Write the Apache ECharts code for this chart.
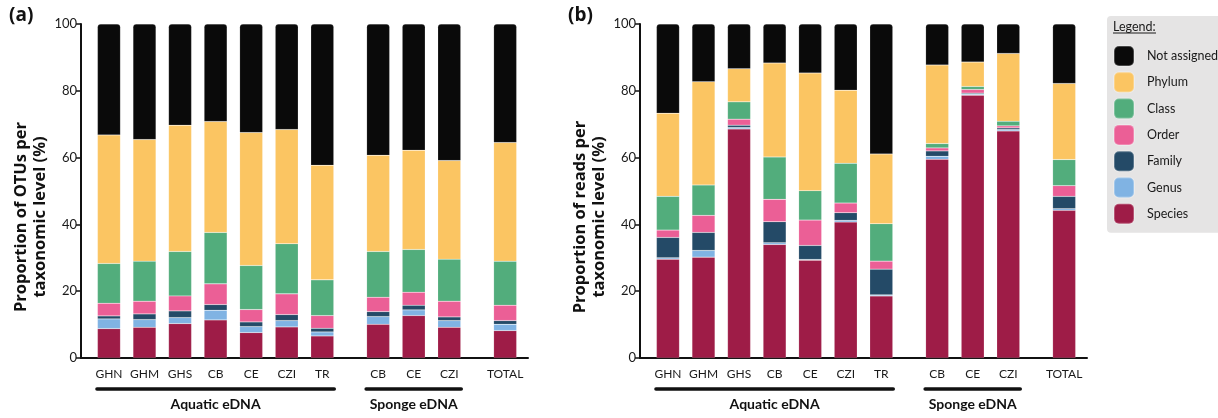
<!DOCTYPE html>
<html>
<head>
<meta charset="utf-8">
<script src="https://cdn.jsdelivr.net/npm/echarts@6/dist/echarts.min.js"></script>
<style>
  html, body { margin: 0; padding: 0; background: #fff; }
  #chart { width: 1218px; height: 418px; }
</style>
</head>
<body>
<div id="chart"></div>
<script>
// ---------- data ----------
const sites = ['GHN', 'GHM', 'GHS', 'CB', 'CE', 'CZI', 'TR', 'CB', 'CE', 'CZI', 'TOTAL'];
const siteGroups = ['Aquatic eDNA', 'Aquatic eDNA', 'Aquatic eDNA', 'Aquatic eDNA', 'Aquatic eDNA', 'Aquatic eDNA', 'Aquatic eDNA',
                    'Sponge eDNA', 'Sponge eDNA', 'Sponge eDNA', 'TOTAL'];
const levels = ['Species', 'Genus', 'Family', 'Order', 'Class', 'Phylum', 'Not assigned'];
const legendOrder = ['Not assigned', 'Phylum', 'Class', 'Order', 'Family', 'Genus', 'Species'];
const yTicks = [0, 20, 40, 60, 80, 100];

// (a) proportion of OTUs per taxonomic level (%)
const otuSpecies  = [8.8, 9.2, 10.3, 11.4, 7.6, 9.3, 6.6, 10.1, 12.7, 9.2, 8.2];
const otuGenus    = [2.9, 2.3, 1.8, 2.9, 1.8, 1.9, 1.2, 2.3, 1.7, 2.0, 1.9];
const otuFamily   = [0.9, 1.7, 2.0, 1.7, 1.4, 1.8, 1.1, 1.5, 1.4, 1.1, 1.1];
const otuOrder    = [3.8, 3.8, 4.5, 6.2, 3.7, 6.2, 3.8, 4.3, 3.9, 4.7, 4.6];
const otuClass    = [11.9, 12.0, 13.3, 15.4, 13.2, 15.0, 10.7, 13.7, 12.8, 12.6, 13.2];
const otuPhylum   = [38.5, 36.4, 37.8, 33.2, 39.8, 34.2, 34.3, 28.8, 29.7, 29.5, 35.5];
const otuNotAssig = [33.2, 34.6, 30.3, 29.2, 32.5, 31.6, 42.3, 39.3, 37.8, 40.9, 35.5];

// (b) proportion of reads per taxonomic level (%)
const rdSpecies  = [29.6, 30.2, 68.6, 34.0, 29.3, 40.7, 18.6, 59.5, 78.7, 68.0, 44.2];
const rdGenus    = [0.4, 2.0, 0.4, 0.5, 0.2, 0.5, 0.3, 0.9, 0.3, 0.4, 0.5];
const rdFamily   = [6.1, 5.4, 0.7, 6.3, 4.2, 2.3, 7.7, 1.6, 0.3, 0.5, 3.7];
const rdOrder    = [2.2, 5.1, 1.8, 6.7, 7.6, 2.9, 2.4, 0.9, 1.1, 0.6, 3.2];
const rdClass    = [10.1, 9.1, 5.2, 12.7, 8.8, 11.9, 11.2, 1.3, 0.9, 1.4, 7.8];
const rdPhylum   = [24.9, 30.9, 9.9, 28.1, 35.2, 21.9, 20.9, 23.5, 7.3, 20.3, 22.8];
const rdNotAssig = [26.7, 17.3, 13.4, 11.7, 14.7, 19.8, 38.9, 12.3, 11.4, 8.8, 17.8];

// ---------- styling ----------
const colors = {
  'Species': '#9E1C47', 'Genus': '#80B3E3', 'Family': '#244A67', 'Order': '#EB5F96',
  'Class': '#52AD7C', 'Phylum': '#FBC562', 'Not assigned': '#0A0A0A'
};
const FONT = 'Lato, "Open Sans", sans-serif';
const FONT_B = '"Open Sans", Lato, sans-serif';
const TXT = '#1a1a1a';

const otuData = {
  'Species': otuSpecies, 'Genus': otuGenus, 'Family': otuFamily, 'Order': otuOrder,
  'Class': otuClass, 'Phylum': otuPhylum, 'Not assigned': otuNotAssig
};
const rdData = {
  'Species': rdSpecies, 'Genus': rdGenus, 'Family': rdFamily, 'Order': rdOrder,
  'Class': rdClass, 'Phylum': rdPhylum, 'Not assigned': rdNotAssig
};

// category slots: small units so that groups get wider gaps than bars
const SLOT_LEAD = 5, SLOT_BAR = 7, SLOT_GROUP = 11, SLOT_TRAIL = 5;
const slotKeys = [];   // axis categories
const slotLabel = [];  // visible label per category
const barSlot = [];    // slot index of each site
(function buildSlots() {
  let n = 0;
  const addSpacer = (k) => { for (let i = 0; i < k; i++) { slotKeys.push('_s' + n++); slotLabel.push(''); } };
  addSpacer(SLOT_LEAD);
  sites.forEach((s, i) => {
    if (i > 0) addSpacer((siteGroups[i] === siteGroups[i - 1] ? SLOT_BAR : SLOT_GROUP) - 1);
    barSlot.push(slotKeys.length);
    slotKeys.push(siteGroups[i] + ':' + s);
    slotLabel.push(s);
  });
  addSpacer(SLOT_TRAIL - 1);
})();

function slotData(arr) {
  const d = slotKeys.map(() => null);
  arr.forEach((v, i) => { d[barSlot[i]] = v; });
  return d;
}

const grids = [
  { left: 81, top: 24, width: 447, height: 334 },
  { left: 640, top: 24, width: 447, height: 334 }
];

function xAxisFor(gi) {
  return {
    type: 'category', gridIndex: gi, data: slotKeys,
    axisTick: { show: false },
    axisLine: { lineStyle: { color: '#111', width: 2 } },
    axisLabel: {
      interval: 0, margin: 10, color: TXT, fontFamily: FONT, fontSize: 12,
      formatter: (v, idx) => slotLabel[idx]
    }
  };
}
function yAxisFor(gi) {
  return {
    type: 'value', gridIndex: gi, min: yTicks[0], max: yTicks[yTicks.length - 1], interval: 20,
    axisLine: { show: true, lineStyle: { color: '#111', width: 2 } },
    axisTick: { show: true, length: 5, lineStyle: { color: '#111', width: 1.5 } },
    splitLine: { show: false },
    axisLabel: { margin: 4, color: TXT, fontFamily: FONT, fontSize: 13 }
  };
}

const series = [];
[otuData, rdData].forEach((data, gi) => {
  levels.forEach((lv) => {
    series.push({
      name: lv, type: 'bar', stack: 'p' + gi, xAxisIndex: gi, yAxisIndex: gi,
      barWidth: 23, data: slotData(data[lv]),
      itemStyle: {
        color: colors[lv],
        borderColor: 'rgba(255,255,255,0.25)', borderWidth: 0.5,
        borderRadius: lv === 'Not assigned' ? [3, 3, 0, 0] : 0
      },
      emphasis: { disabled: true },
      silent: true
    });
  });
});

const chart = echarts.init(document.getElementById('chart'), null, { renderer: 'canvas' });
chart.setOption({
  animation: false,
  backgroundColor: '#fff',
  textStyle: { fontFamily: FONT },
  grid: grids,
  xAxis: [xAxisFor(0), xAxisFor(1)],
  yAxis: [yAxisFor(0), yAxisFor(1)],
  legend: {
    data: legendOrder, orient: 'vertical', left: 1107, top: 16,
    selectedMode: false, icon: 'roundRect', itemWidth: 20, itemHeight: 20, itemGap: 4.3,
    padding: [29, 20, 8, 6],
    backgroundColor: '#E5E4E4', borderRadius: 4,
    textStyle: { color: TXT, fontFamily: FONT, fontSize: 12.5, lineHeight: 16, padding: [0, 0, 0, 8] }
  },
  series: series
});

// ---------- annotations positioned via the axes ----------
const graphics = [];
const panelNames = ['(a)', '(b)'];
const yNames = ['Proportion of OTUs per\ntaxonomic level (%)', 'Proportion of reads per\ntaxonomic level (%)'];
[0, 1].forEach((gi) => {
  const g = grids[gi];
  graphics.push({
    type: 'text', x: g.left - 72, y: 6, z: 50,
    style: { text: panelNames[gi], fontFamily: FONT_B, fontWeight: 'bold', fontSize: 19, fill: '#111' }
  });
  graphics.push({
    type: 'text', x: g.left - 50, y: 217, rotation: Math.PI / 2, z: 50,
    style: { text: yNames[gi], fontFamily: FONT_B, fontWeight: 'bold', fontSize: 16.5, fill: '#111',
             align: 'center', verticalAlign: 'middle', lineHeight: 19 }
  });
  ['Aquatic eDNA', 'Sponge eDNA'].forEach((grp) => {
    const idx = sites.map((s, i) => i).filter((i) => siteGroups[i] === grp);
    const x0 = chart.convertToPixel({ xAxisIndex: gi }, slotKeys[barSlot[idx[0]]]);
    const x1 = chart.convertToPixel({ xAxisIndex: gi }, slotKeys[barSlot[idx[idx.length - 1]]]);
    graphics.push({
      type: 'line', z: 50,
      shape: { x1: x0 - 12, y1: 389, x2: x1 + 12, y2: 389 },
      style: { stroke: '#111', lineWidth: 3.5, lineCap: 'round' }
    });
    graphics.push({
      type: 'text', x: (x0 + x1) / 2, y: 404, z: 50,
      style: { text: grp, fontFamily: FONT, fontWeight: 'bold', fontSize: 14, fill: '#111',
               align: 'center', verticalAlign: 'middle' }
    });
  });
});
graphics.push({
  type: 'text', x: 1113, y: 27, z: 100,
  style: { text: 'Legend:', fontFamily: FONT, fontSize: 12.5, fill: TXT, verticalAlign: 'middle' }
});
graphics.push({
  type: 'line', z: 100,
  shape: { x1: 1113, y1: 33, x2: 1156, y2: 33 },
  style: { stroke: TXT, lineWidth: 1 }
});
chart.setOption({ graphic: graphics });
</script>
</body>
</html>
